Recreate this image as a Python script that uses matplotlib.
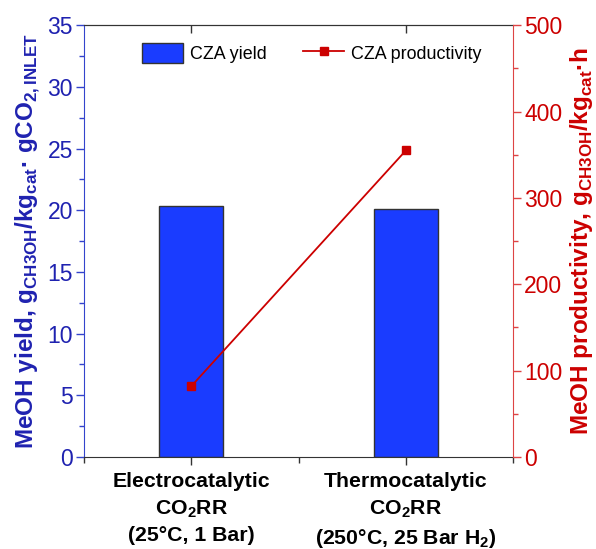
import numpy as np
import matplotlib
matplotlib.use("Agg")
import matplotlib.pyplot as plt
from matplotlib.ticker import MultipleLocator, FixedLocator

plt.rcParams['font.family'] = ['Liberation Sans', 'DejaVu Sans']
plt.rcParams['mathtext.fontset'] = 'custom'
plt.rcParams['mathtext.rm'] = 'Liberation Sans'
plt.rcParams['mathtext.bf'] = 'Liberation Sans:bold'

# data
categories = ["Electrocatalytic\nCO$_\\mathbf{2}$RR\n(25°C, 1 Bar)",
              "Thermocatalytic\nCO$_\\mathbf{2}$RR\n(250°C, 25 Bar H$_\\mathbf{2}$)"]
yield_vals = [20.35, 20.1]          # g CH3OH / kg cat / g CO2 inlet
productivity_vals = [82, 355]       # g CH3OH / kg cat / h

blue = "#1a3cff"
dblue = "#1f22b0"
red = "#cc0000"

x = np.arange(1, len(categories) + 1)

fig = plt.figure(figsize=(5.96, 5.49), dpi=100)
ax = fig.add_axes([0.141, 0.1676, 0.72, 0.7864])
ax2 = ax.twinx()

bars = ax.bar(x, yield_vals, width=0.3, color=blue, edgecolor="#333333",
              lw=1.0, label="CZA yield", zorder=2)
line, = ax2.plot(x, productivity_vals, color=red, lw=1.3, marker="s", ms=6,
                 label="CZA productivity", zorder=3)

ax.set_xlim(0.5, 2.5)
ax.set_ylim(0, 35)
ax2.set_ylim(0, 500)

ax.set_xticks(x)
ax.set_xticklabels(categories, fontsize=15.3, fontweight="bold", linespacing=1.42)
ax.xaxis.set_minor_locator(FixedLocator([0.5, 1.5, 2.5]))
ax.tick_params(axis="x", which="major", direction="out", length=6, width=1, color="#333333", pad=5)
ax.tick_params(axis="x", which="minor", direction="out", length=4, width=1, color="#333333")

top = ax.secondary_xaxis("top")
top.set_xticks(x)
top.tick_params(direction="in", length=6, width=1, color="#333333", labeltop=False)
top.spines["top"].set_color("#333333")

ax.yaxis.set_major_locator(MultipleLocator(5))
ax.yaxis.set_minor_locator(MultipleLocator(2.5))
ax.tick_params(axis="y", which="major", direction="out", length=6, width=1,
               color="#3344cc", labelcolor=dblue, labelsize=16.5, pad=2)
ax.tick_params(axis="y", which="minor", direction="out", length=3.5, width=1, color="#3344cc")

ax2.yaxis.set_major_locator(MultipleLocator(100))
ax2.yaxis.set_minor_locator(MultipleLocator(50))
ax2.tick_params(axis="y", which="major", direction="out", length=6, width=1,
                color="#dd4444", labelcolor=red, labelsize=16.5, pad=2)
ax2.tick_params(axis="y", which="minor", direction="out", length=3.5, width=1, color="#dd4444")

ax.spines["left"].set_color("#3344cc")
ax.spines["bottom"].set_color("#333333")
ax.spines["top"].set_color("#333333")
ax.spines["right"].set_visible(False)
ax2.spines["right"].set_color("#dd4444")
ax2.spines["left"].set_visible(False)
ax2.spines["top"].set_visible(False)
ax2.spines["bottom"].set_visible(False)

ax.set_ylabel("MeOH yield, g$_\\mathbf{CH3OH}$/kg$_\\mathbf{cat}$· gCO$_\\mathbf{2,INLET}$",
              fontsize=17.5, fontweight="bold", color=dblue, labelpad=4)
ax2.set_ylabel("MeOH productivity, g$_\\mathbf{CH3OH}$/kg$_\\mathbf{cat}$·h",
               fontsize=17.5, fontweight="bold", color=red, labelpad=4)

ax2.legend([bars, line], ["CZA yield", "CZA productivity"], ncol=2, frameon=False,
           loc="center", bbox_to_anchor=(0.531, 0.935), fontsize=12.9,
           handlelength=2.3, handleheight=1.3, columnspacing=2.0, handletextpad=0.4)

fig.savefig("out.png", dpi=100)
